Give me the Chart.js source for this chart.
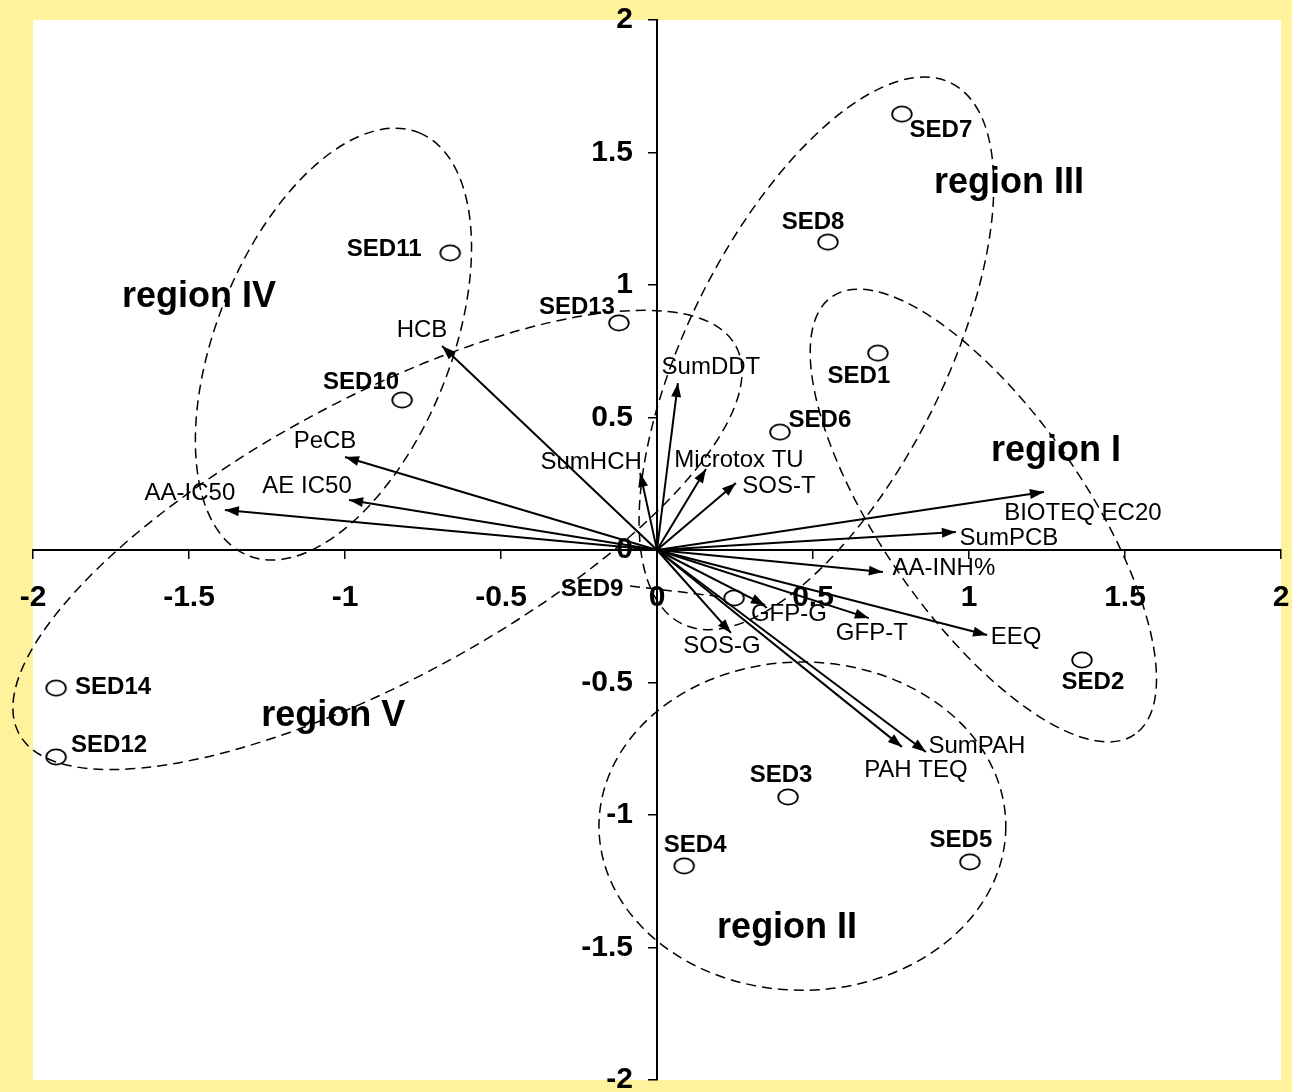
<!DOCTYPE html>
<html>
<head>
<meta charset="utf-8">
<title>PCA biplot</title>
<script src="https://cdn.jsdelivr.net/npm/chart.js@4/dist/chart.umd.min.js"></script>
<style>
  html, body { margin: 0; padding: 0; background: #fff29d; }
  #wrap { width: 1292px; height: 1092px; position: relative; }
</style>
</head>
<body>
<div id="wrap"><canvas id="biplot"></canvas></div>
<script>
// sediment sites (scores)
const sites = ["SED1", "SED2", "SED3", "SED4", "SED5", "SED6", "SED7", "SED8", "SED9", "SED10", "SED11", "SED12", "SED13", "SED14"];
const siteX = [0.708, 1.362, 0.420, 0.087, 1.003, 0.394, 0.785, 0.548, 0.247, -0.817, -0.663, -1.926, -0.122, -1.926];
const siteY = [0.743, -0.415, -0.932, -1.192, -1.177, 0.445, 1.645, 1.162, -0.181, 0.566, 1.121, -0.781, 0.857, -0.521];

// variables (loadings, drawn as arrows from the origin)
const variables = ["HCB", "SumDDT", "PeCB", "SumHCH", "Microtox TU", "SOS-T", "AE IC50", "AA-IC50", "BIOTEQ EC20",
                   "SumPCB", "AA-INH%", "GFP-G", "GFP-T", "EEQ", "SOS-G", "SumPAH", "PAH TEQ"];
const varX = [-0.689, 0.067, -1.000, -0.054, 0.157, 0.253, -0.987, -1.385, 1.240, 0.958, 0.724, 0.346, 0.679, 1.058, 0.237, 0.862, 0.785];
const varY = [0.770, 0.630, 0.351, 0.291, 0.306, 0.253, 0.189, 0.151, 0.219, 0.068, -0.083, -0.208, -0.257, -0.321, -0.313, -0.762, -0.743];

const tickValues = [-2, -1.5, -1, -0.5, 0, 0.5, 1, 1.5, 2];

// region outlines: centre, half axes (in x-axis units), tilt in degrees
const regionNames = ["region I", "region II", "region III", "region IV", "region V"];
const regionShapes = [
  { cx: 1.046, cy: 0.130, a: 0.853, b: 0.327, rot: 55.3 },
  { cx: 0.466, cy: -1.042, a: 0.652, b: 0.526, rot: 0 },
  { cx: 0.511, cy: 0.742, a: 0.968, b: 0.413, rot: -63.5 },
  { cx: -1.037, cy: 0.777, a: 0.731, b: 0.375, rot: -68 },
  { cx: -0.896, cy: 0.038, a: 1.306, b: 0.449, rot: -28.4 }
];
const regionLabelAt = [[1.279, 0.374], [0.417, -1.426], [1.128, 1.385], [-1.468, 0.955], [-1.038, -0.626]];

// label nudges in pixels, relative to the marker / arrow tip
const siteLabelShift = {
  SED1: [-19, 23], SED2: [11, 22], SED3: [-7, -22], SED4: [11, -21], SED5: [-9, -22], SED6: [40, -12],
  SED7: [39, 16], SED8: [-15, -20], SED9: [-142, -9], SED10: [-41, -18], SED11: [-66, -4],
  SED12: [53, -12], SED13: [-42, -16], SED14: [57, -1]
};
const varLabelShift = {
  "HCB": [-20, -16], "SumDDT": [33, -16], "PeCB": [-20, -16], "SumHCH": [-49, -11], "Microtox TU": [33, -9],
  "SOS-T": [43, 3], "AE IC50": [-42, -14], "AA-IC50": [-35, -17], "BIOTEQ EC20": [39, 21], "SumPCB": [53, 6],
  "AA-INH%": [61, -4], "GFP-G": [24, 9], "GFP-T": [3, 15], "EEQ": [29, 2], "SOS-G": [-9, 13],
  "SumPAH": [51, -6], "PAH TEQ": [14, 23]
};

const FONT = "'Liberation Sans', Arial, sans-serif";

// open ellipse marker used for the sites
function makeMarker() {
  const c = document.createElement("canvas");
  c.width = 24; c.height = 20;
  const g = c.getContext("2d");
  g.strokeStyle = "#000";
  g.lineWidth = 1.8;
  g.beginPath();
  g.ellipse(12, 10, 9.8, 7.6, 0, 0, Math.PI * 2);
  g.stroke();
  return c;
}

const datasets = [];
variables.forEach(function (name, i) {
  datasets.push({
    type: "line",
    label: name,
    data: [{ x: 0, y: 0 }, { x: varX[i], y: varY[i] }],
    borderColor: "#000",
    borderWidth: 2,
    pointRadius: 0,
    fill: false,
    isVector: true
  });
});
datasets.push({
  type: "scatter",
  label: "sites",
  data: sites.map(function (s, i) { return { x: siteX[i], y: siteY[i] }; }),
  pointStyle: makeMarker(),
  pointRadius: 10,
  isSites: true
});

// labels of an axis placed at x = 0 sit on the axis line, move them to the left
const Y_LABEL_GAP = 24;

const decorations = {
  id: "decorations",
  beforeDraw(chart) {
    const { ctx, chartArea } = chart;
    ctx.save();
    ctx.fillStyle = "#fff29d";
    ctx.fillRect(0, 0, chart.width, chart.height);
    ctx.fillStyle = "#ffffff";
    ctx.fillRect(chartArea.left, chartArea.top, chartArea.right - chartArea.left, chartArea.bottom - chartArea.top);
    ctx.restore();

    const items = chart.scales.y.getLabelItems();
    if (!items._shifted) {
      items.forEach(function (it) { it.options.translation[0] -= Y_LABEL_GAP; });
      items._shifted = true;
    }
  },
  afterDatasetsDraw(chart) {
    const { ctx } = chart;
    const xs = chart.scales.x, ys = chart.scales.y;
    const unit = xs.getPixelForValue(1) - xs.getPixelForValue(0);
    ctx.save();

    // dashed region outlines
    ctx.strokeStyle = "#000";
    ctx.lineWidth = 1.5;
    ctx.setLineDash([10, 6]);
    regionShapes.forEach(function (e) {
      ctx.beginPath();
      ctx.ellipse(xs.getPixelForValue(e.cx), ys.getPixelForValue(e.cy), e.a * unit, e.b * unit,
        e.rot * Math.PI / 180, 0, Math.PI * 2);
      ctx.stroke();
    });

    // leader from SED9 label to its marker
    const i9 = sites.indexOf("SED9");
    const px9 = xs.getPixelForValue(siteX[i9]), py9 = ys.getPixelForValue(siteY[i9]);
    ctx.beginPath();
    ctx.moveTo(px9 + siteLabelShift.SED9[0] + 38, py9 + siteLabelShift.SED9[1] - 3);
    ctx.lineTo(px9 - 11, py9 - 1);
    ctx.stroke();
    ctx.setLineDash([]);

    // arrow heads + variable labels
    ctx.fillStyle = "#000";
    chart.data.datasets.forEach(function (ds, di) {
      if (!ds.isVector) return;
      const pts = chart.getDatasetMeta(di).data;
      const x0 = pts[0].x, y0 = pts[0].y, x1 = pts[1].x, y1 = pts[1].y;
      const ang = Math.atan2(y1 - y0, x1 - x0);
      const len = 14, half = 5;
      ctx.beginPath();
      ctx.moveTo(x1, y1);
      ctx.lineTo(x1 - len * Math.cos(ang) + half * Math.sin(ang), y1 - len * Math.sin(ang) - half * Math.cos(ang));
      ctx.lineTo(x1 - len * Math.cos(ang) - half * Math.sin(ang), y1 - len * Math.sin(ang) + half * Math.cos(ang));
      ctx.closePath();
      ctx.fill();

      const sh = varLabelShift[ds.label];
      ctx.font = "24px " + FONT;
      ctx.textAlign = "center";
      ctx.textBaseline = "middle";
      ctx.fillText(ds.label, x1 + sh[0], y1 + sh[1]);
    });

    // site labels
    ctx.font = "bold 24px " + FONT;
    sites.forEach(function (s, i) {
      const sh = siteLabelShift[s];
      ctx.fillText(s, xs.getPixelForValue(siteX[i]) + sh[0], ys.getPixelForValue(siteY[i]) + sh[1]);
    });

    // region labels
    ctx.font = "bold 36px " + FONT;
    regionNames.forEach(function (r, i) {
      ctx.fillText(r, xs.getPixelForValue(regionLabelAt[i][0]), ys.getPixelForValue(regionLabelAt[i][1]));
    });
    ctx.restore();
  }
};

const tickFont = { family: FONT, size: 30, weight: "bold" };

function noEdgePadding(axis) {
  axis.paddingLeft = 0; axis.paddingRight = 0; axis.paddingTop = 0; axis.paddingBottom = 0;
}

new Chart(document.getElementById("biplot").getContext("2d"), {
  data: { datasets: datasets },
  options: {
    responsive: true,
    maintainAspectRatio: false,
    animation: false,
    layout: { padding: { left: 33, right: 11, top: 20, bottom: 12 } },
    plugins: { legend: { display: false }, tooltip: { enabled: false } },
    scales: {
      x: {
        type: "linear",
        min: -2, max: 2,
        position: { y: 0 },
        afterBuildTicks: function (axis) { axis.ticks = tickValues.map(function (v) { return { value: v }; }); },
        afterFit: noEdgePadding,
        grid: { drawOnChartArea: false, drawTicks: true, tickLength: 8, color: "#000", lineWidth: 1.5 },
        border: { display: true, color: "#000", width: 2 },
        ticks: {
          autoSkip: false, maxRotation: 0, color: "#000", font: tickFont, padding: 22,
          callback: function (v) { return String(v); }
        }
      },
      y: {
        type: "linear",
        min: -2, max: 2,
        position: { x: 0 },
        afterBuildTicks: function (axis) { axis.ticks = tickValues.map(function (v) { return { value: v }; }); },
        afterFit: noEdgePadding,
        grid: { drawOnChartArea: false, drawTicks: true, tickLength: 8, color: "#000", lineWidth: 1.5 },
        border: { display: true, color: "#000", width: 2 },
        ticks: {
          autoSkip: false, color: "#000", font: tickFont, padding: 14,
          callback: function (v) { return String(v); }
        }
      }
    }
  },
  plugins: [decorations]
});
</script>
</body>
</html>
